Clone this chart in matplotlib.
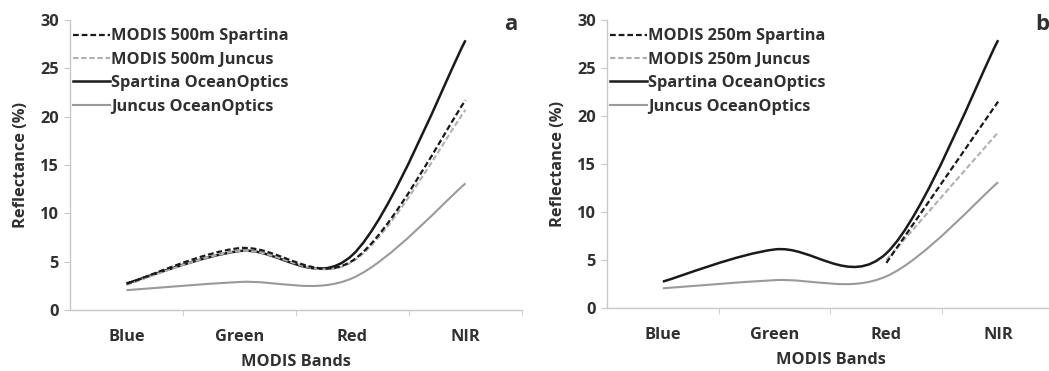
import numpy as np
import matplotlib.pyplot as plt
from matplotlib.path import Path
from matplotlib.patches import PathPatch
from matplotlib.lines import Line2D

bands = ["Blue", "Green", "Red", "NIR"]

# panel a (MODIS 500m)
modis500_spartina = [2.7, 6.4, 5.1, 21.7]
modis500_juncus = [2.6, 6.1, 5.0, 20.7]
spartina_oo = [2.75, 6.1, 5.7, 27.9]
juncus_oo = [2.05, 2.9, 3.3, 13.1]

# panel b (MODIS 250m, only Red and NIR)
modis250_spartina = [None, None, 4.7, 21.5]
modis250_juncus = [None, None, 5.0, 18.3]

TEXT = "#303030"
SPINE = "#c8c8c8"
BLACK = "#1a1a1a"
GREY = "#9a9a9a"
LGREY = "#b0b0b0"

plt.rcParams["font.family"] = ["Open Sans", "DejaVu Sans"]
plt.rcParams["font.weight"] = "bold"


def excel_smooth(ax, xs, ys):
    """Bezier path with Excel-like smoothing, computed in display space."""
    pts = ax.transData.transform(np.column_stack([xs, ys]))
    n = len(pts)
    verts = [pts[0]]
    codes = [Path.MOVETO]
    for i in range(n - 1):
        p0 = pts[i - 1] if i > 0 else pts[i]
        p1, p2 = pts[i], pts[i + 1]
        p3 = pts[i + 2] if i + 2 < n else pts[i + 1]
        d12 = np.hypot(*(p2 - p1))
        d02 = np.hypot(*(p2 - p0))
        d13 = np.hypot(*(p3 - p1))
        f1 = 1 / 6 if d02 / 6 < d12 / 2 else d12 / (2 * d02)
        f2 = 1 / 6 if d13 / 6 < d12 / 2 else d12 / (2 * d13)
        c1 = p1 + f1 * (p2 - p0)
        c2 = p2 - f2 * (p3 - p1)
        verts += [c1, c2, p2]
        codes += [Path.CURVE4] * 3
    verts = ax.transData.inverted().transform(np.array(verts))
    return Path(verts, codes)


def draw_series(ax, vals, color, lw, ls):
    xs = [i for i, v in enumerate(vals) if v is not None]
    ys = [v for v in vals if v is not None]
    path = excel_smooth(ax, xs, ys)
    ax.add_patch(PathPatch(path, fill=False, edgecolor=color, lw=lw,
                           linestyle=ls, capstyle="butt"))


fig = plt.figure(figsize=(10.49, 3.71), dpi=100)
ax_a = fig.add_axes([70 / 1049, 1 - 310 / 371, 452 / 1049, 290 / 371])
ax_b = fig.add_axes([607 / 1049, 1 - 308 / 371, 447 / 1049, 288 / 371])

dash = (0, (2.6, 1.3))
FS = 11.8
panels = [
    (ax_a, modis500_spartina, modis500_juncus, "500m", "a"),
    (ax_b, modis250_spartina, modis250_juncus, "250m", "b"),
]

for ax, m_sp, m_ju, res, letter in panels:
    ax.set_xlim(-0.5, 3.5)
    ax.set_ylim(0, 30)
    for s in ["top", "right"]:
        ax.spines[s].set_visible(False)
    for s in ["left", "bottom"]:
        ax.spines[s].set_color(SPINE)
        ax.spines[s].set_linewidth(1.0)
    ax.set_yticks(range(0, 31, 5))
    ax.set_xticks(range(4))
    ax.set_xticklabels(bands, fontweight="bold")
    ax.set_xticks([0.5, 1.5, 2.5, 3.5], minor=True)
    ax.tick_params(axis="x", which="major", length=0, pad=14, labelsize=FS,
                   labelcolor=TEXT)
    ax.tick_params(axis="x", which="minor", length=4, color=SPINE, direction="out")
    ax.tick_params(axis="y", length=4, color=SPINE, pad=4, labelsize=FS,
                   labelcolor=TEXT)
    for t in ax.get_yticklabels():
        t.set_fontweight("bold")
    ax.set_xlabel("MODIS Bands", fontsize=FS, color=TEXT, labelpad=6,
                  fontweight="bold")
    ax.set_ylabel("Reflectance (%)", fontsize=FS, color=TEXT, labelpad=8,
                  fontweight="bold")

    draw_series(ax, juncus_oo, GREY, 1.5, "-")
    draw_series(ax, spartina_oo, BLACK, 1.8, "-")
    draw_series(ax, m_ju, LGREY, 1.5, dash)
    draw_series(ax, m_sp, BLACK, 1.6, dash)

    handles = [
        Line2D([], [], color=BLACK, lw=1.6, ls=dash),
        Line2D([], [], color=LGREY, lw=1.5, ls=dash),
        Line2D([], [], color=BLACK, lw=1.8),
        Line2D([], [], color=GREY, lw=1.5),
    ]
    labels = ["MODIS %s Spartina" % res, "MODIS %s Juncus" % res,
              "Spartina OceanOptics", "Juncus OceanOptics"]
    leg = ax.legend(handles, labels, loc="upper left",
                    bbox_to_anchor=(-0.015, 1.005),
                    frameon=False, fontsize=FS, handlelength=2.25,
                    handletextpad=0.05, labelspacing=0.45, borderaxespad=0.2)
    for t in leg.get_texts():
        t.set_color(TEXT)
        t.set_fontweight("bold")
    ax.text(0.99, 1.02, letter, transform=ax.transAxes, ha="right", va="top",
            fontsize=16, fontweight="bold", color=TEXT)

fig.savefig("out.png", dpi=100)
